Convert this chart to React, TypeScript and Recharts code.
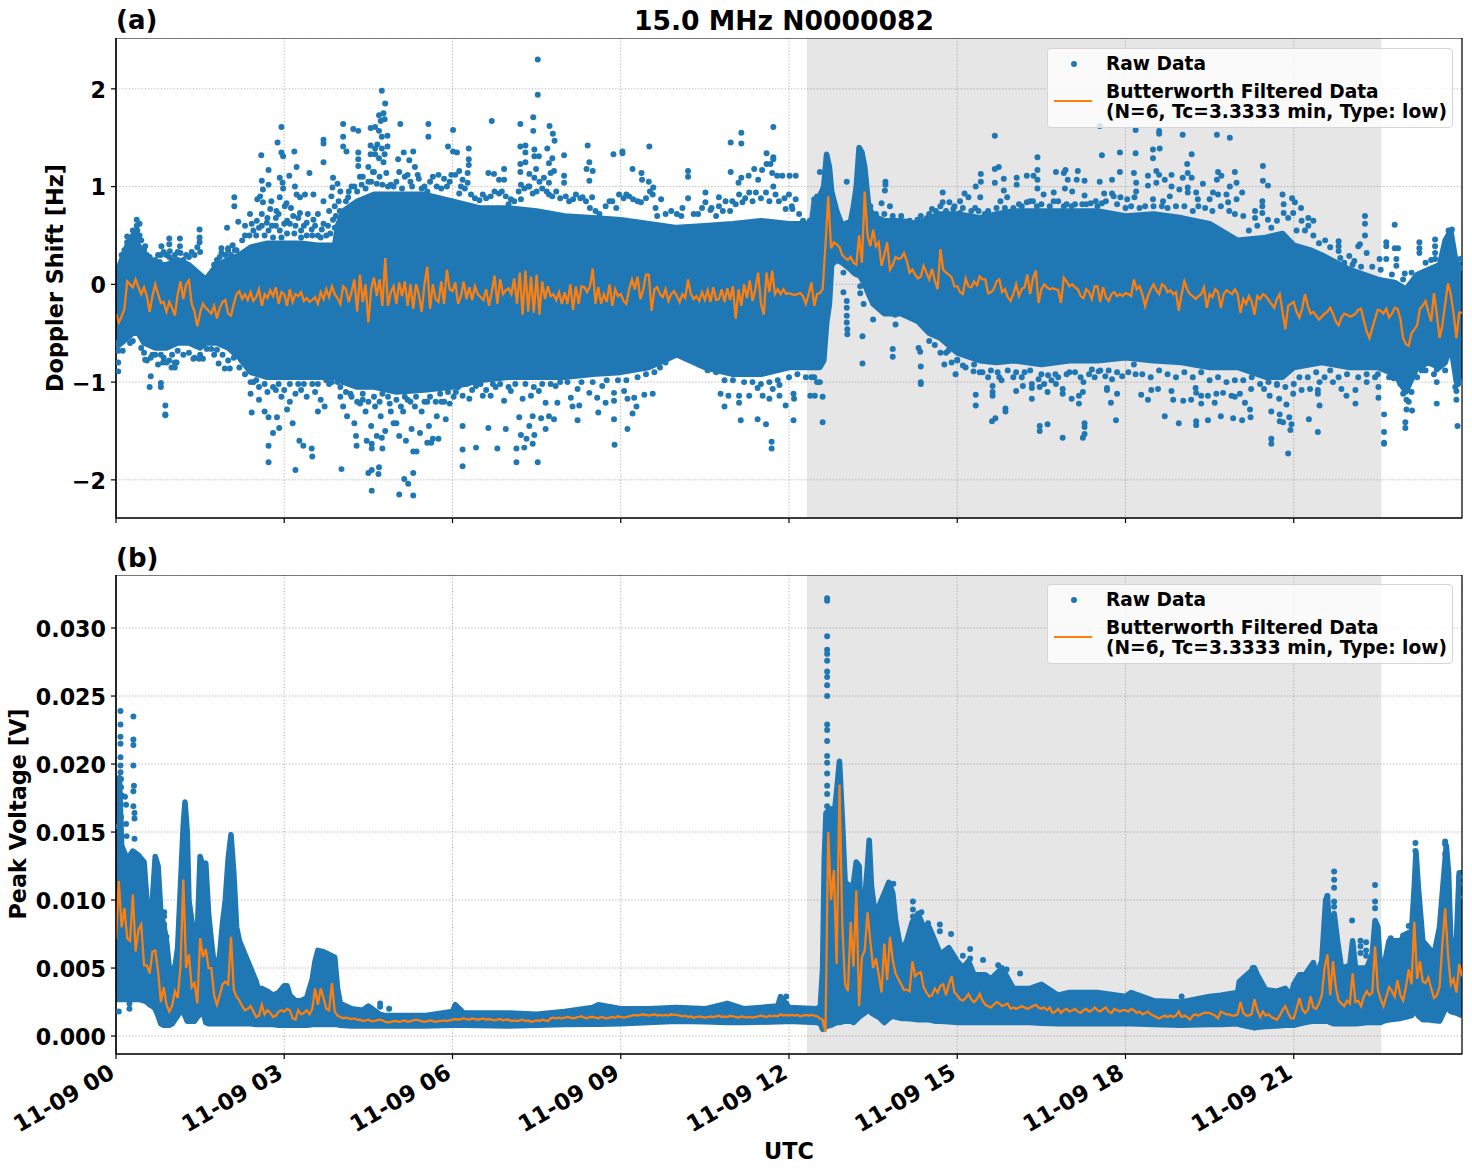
import { ComposedChart, Area, Line, Scatter, XAxis, YAxis, ZAxis, CartesianGrid, ReferenceArea } from "recharts";

const BLUE = "#1f77b4";
const ORANGE = "#ff7f0e";
const FONT = "'DejaVu Sans', sans-serif";

const hourTicks = [0, 3, 6, 9, 12, 15, 18, 21];
const hourLabels = ["11-09 00", "11-09 03", "11-09 06", "11-09 09", "11-09 12", "11-09 15", "11-09 18", "11-09 21"];
const dopplerTicks = [-2, -1, 0, 1, 2];
const voltageTicks = [0, 0.005, 0.01, 0.015, 0.02, 0.025, 0.03];
const nightStart = 12.32;
const nightEnd = 22.56;
const FILTER_STEP = 0.05; // hours between filtered samples

// [hour, low, high] of the solid part of the raw cloud, Hz
const dopplerBand: [number, number, number][] = [
  [0, -0.55, 0.1], [0.1, -0.6, 0.25], [0.2, -0.55, 0.4], [0.3, -0.5, 0.5], [0.4, -0.5, 0.4], [0.5, -0.6, 0.3],
  [0.7, -0.65, 0.2], [0.9, -0.65, 0.2], [1.1, -0.6, 0.25], [1.3, -0.6, 0.2], [1.5, -0.65, 0.1], [1.6, -0.6, 0.05],
  [1.8, -0.6, 0.2], [2.0, -0.65, 0.25], [2.2, -0.75, 0.3], [2.4, -0.9, 0.38], [2.7, -0.95, 0.42], [3.0, -0.95, 0.42],
  [3.3, -0.95, 0.42], [3.6, -0.95, 0.4], [3.9, -0.95, 0.4], [3.95, -0.95, 0.6], [4.05, -1.0, 0.75], [4.3, -1.05, 0.85],
  [4.6, -1.05, 0.92], [5, -1.1, 0.92], [5.5, -1.08, 0.92], [6, -1.05, 0.85], [6.5, -0.98, 0.78], [7, -0.95, 0.78],
  [7.5, -0.95, 0.75], [8, -0.95, 0.7], [8.5, -0.92, 0.68], [9, -0.9, 0.66], [9.5, -0.85, 0.62], [10, -0.72, 0.58],
  [10.5, -0.85, 0.6], [11, -0.92, 0.62], [11.5, -0.92, 0.65], [12, -0.85, 0.62], [12.4, -0.85, 0.62], [12.45, -0.85, 0.85],
  [12.55, -0.85, 0.9], [12.62, -0.78, 1.0], [12.67, -0.4, 1.33], [12.72, -0.2, 1.2], [12.76, 0.2, 0.95], [12.85, 0.25, 0.75],
  [12.95, 0.22, 0.6], [13.1, 0.15, 0.65], [13.15, 0.12, 0.8], [13.2, 0.1, 1.0], [13.25, 0.1, 1.4], [13.3, 0.05, 1.35],
  [13.35, 0, 1.2], [13.42, -0.1, 0.8], [13.5, -0.2, 0.7], [13.7, -0.3, 0.65], [14, -0.3, 0.65], [14.3, -0.38, 0.62],
  [14.5, -0.5, 0.68], [14.7, -0.55, 0.72], [15, -0.7, 0.72], [15.4, -0.78, 0.68], [15.7, -0.8, 0.72], [16, -0.78, 0.75],
  [16.5, -0.82, 0.75], [17, -0.78, 0.75], [17.5, -0.78, 0.75], [18, -0.75, 0.7], [18.5, -0.78, 0.72], [19, -0.8, 0.68],
  [19.5, -0.85, 0.62], [20, -0.85, 0.45], [20.5, -0.95, 0.48], [20.8, -0.95, 0.52], [21, -0.85, 0.4], [21.3, -0.82, 0.35],
  [21.5, -0.8, 0.3], [22, -0.85, 0.15], [22.5, -0.85, 0.05], [22.8, -0.92, 0.02], [23, -1.1, -0.05], [23.2, -0.85, 0.1],
  [23.4, -0.8, 0.15], [23.6, -0.85, 0.2], [23.7, -0.8, 0.45], [23.8, -0.62, 0.55], [23.9, -1.0, 0.2], [24, -0.9, 0.2],
];

// [hour, Hz] single points above the cloud
const dopplerHighEarly: [number, number][] = [
  [4.74, 1.98], [4.8, 1.85], [4.77, 1.75], [4.69, 1.73], [4.72, 1.67], [4.79, 1.69], [4.05, 1.64], [5.07, 1.64], [5.57, 1.64], [5.57, 1.51],
  [6.01, 1.58], [4.23, 1.59], [4.32, 1.57], [4.54, 1.6], [4.62, 1.61], [4.69, 1.57], [2.95, 1.61], [2.88, 1.45], [2.95, 1.35], [2.98, 1.31],
  [3.18, 1.36], [3.7, 1.48], [3.7, 1.44], [3.7, 1.25], [2.59, 1.32], [4.05, 1.51], [4.05, 1.41], [4.11, 1.36], [4.54, 1.42], [4.66, 1.43],
  [4.62, 1.39], [4.54, 1.33], [4.62, 1.33], [4.74, 1.39], [4.84, 1.41], [4.84, 1.52], [4.74, 1.51], [4.79, 1.33], [4.69, 1.29], [4.77, 1.25],
  [4.32, 1.35], [4.32, 1.28], [4.32, 1.21], [5.92, 1.41], [6.01, 1.36], [6.08, 1.35], [5.13, 1.35], [5.3, 1.36], [5.03, 1.28], [5.23, 1.27],
  [5.33, 1.2], [3.22, 1.2], [3.45, 1.14], [2.72, 1.17], [3.09, 1.11], [2.92, 1.09], [2.97, 1.04], [2.6, 1.06], [2.72, 1.02], [2.62, 0.97],
  [2.98, 0.98], [3.19, 1.0], [3.87, 1.09], [3.95, 1.03], [3.86, 0.99], [2.11, 0.89], [2.11, 0.8], [2.52, 0.87], [2.62, 0.84], [2.77, 0.85],
  [2.18, 0.64], [1.98, 0.58], [2.39, 0.72], [1.49, 0.56], [1.49, 0.48], [1.49, 0.43], [1.14, 0.47], [1.14, 0.39], [0.95, 0.47], [0.95, 0.41],
  [0.96, 0.34], [0.81, 0.39], [0.78, 0.23], [0.62, 0.25], [0.37, 0.66], [0.42, 0.62], [0.37, 0.6], [0.38, 0.55], [0.4, 0.49], [0.2, 0.49],
  [0.2, 0.43], [0.52, 0.39], [2.0, 0.37], [1.88, 0.37], [1.88, 0.32], [2.92, 0.89], [3.01, 0.8], [2.86, 0.75], [2.75, 0.77], [2.51, 0.65],
  [2.69, 0.63], [2.72, 0.55], [2.92, 0.55], [3.16, 0.7], [3.28, 0.73], [3.4, 0.63], [3.49, 0.56], [3.52, 0.66], [3.52, 0.92], [3.67, 0.56],
  [3.7, 0.85], [3.84, 0.9], [3.87, 0.66], [3.99, 0.75], [4.14, 0.89], [3.22, 0.92], [3.28, 0.89], [3.37, 0.92], [3.04, 0.83], [2.57, 0.9],
  [2.3, 0.6], [2.45, 0.55], [2.6, 0.6], [2.85, 0.6], [3.05, 0.65], [3.3, 0.55], [3.6, 0.5], [3.78, 0.6], [3.9, 0.8], [4.0, 0.95],
  [4.25, 1.0], [4.4, 1.1], [4.5, 1.05], [4.6, 1.15], [4.7, 1.1], [4.85, 1.0], [4.95, 1.0], [5.05, 1.15], [5.15, 1.1], [5.25, 1.05],
  [5.4, 1.08], [5.5, 1.0], [5.6, 1.05], [5.72, 1.0], [5.85, 1.08], [5.98, 1.12], [4.35, 1.1], [4.5, 1.2], [4.58, 1.15], [4.82, 1.14],
];

const dopplerHighMid: [number, number][] = [
  [7.52, 2.3], [7.52, 1.94], [7.44, 1.71], [7.44, 1.57], [6.7, 1.67], [7.21, 1.64], [7.73, 1.62], [7.79, 1.54], [7.82, 1.47], [6.29, 1.39],
  [7.21, 1.41], [7.3, 1.42], [7.3, 1.35], [7.3, 1.25], [7.21, 1.23], [7.21, 1.15], [7.69, 1.39], [7.99, 1.32], [7.78, 1.29], [7.46, 1.38],
  [7.46, 1.31], [7.54, 1.31], [8.41, 1.42], [8.44, 1.25], [8.39, 1.18], [8.5, 1.16], [8.44, 1.06], [8.87, 1.33], [9.03, 1.36], [9.03, 1.34],
  [9.51, 1.41], [9.21, 1.18], [9.37, 1.14], [9.38, 1.07], [9.5, 1.05], [9.58, 0.99], [10.2, 1.16], [10.2, 1.1], [10.2, 0.88], [10.96, 1.45],
  [11.15, 1.55], [11.15, 1.44], [10.96, 1.15], [11.72, 1.61], [11.6, 1.34], [11.72, 1.3], [11.72, 1.28], [11.6, 1.23], [11.67, 1.23], [11.38, 1.18],
  [11.28, 1.11], [11.15, 1.09], [11.1, 1.04], [11.45, 1.07], [11.52, 1.17], [11.7, 1.14], [11.79, 1.11], [11.88, 1.11], [12.01, 1.11], [12.12, 1.11],
  [11.72, 1.0], [6.64, 1.14], [6.74, 1.13], [6.83, 1.07], [6.92, 1.18], [6.92, 1.07], [6.12, 1.16], [6.27, 1.14], [6.29, 1.28], [6.29, 1.22],
  [6.18, 1.07], [6.27, 1.04], [7.37, 1.13], [7.49, 1.18], [7.46, 1.09], [7.72, 1.24], [7.75, 1.14], [7.81, 1.16], [7.99, 1.11], [7.99, 1.04],
  [7.63, 1.09], [7.72, 1.04], [7.37, 1.0], [7.22, 1.02], [6.12, 0.93], [6.54, 0.92], [6.83, 0.93], [7.04, 0.87], [7.22, 0.87], [7.43, 0.93],
  [7.72, 0.92], [8.02, 0.9], [8.2, 0.92], [8.32, 0.89], [8.49, 0.89], [8.73, 0.8], [8.85, 0.85], [8.97, 0.92], [9.15, 0.9], [9.36, 0.84],
  [9.57, 0.92], [9.72, 0.87], [10.51, 0.94], [10.51, 0.84], [10.75, 0.89], [10.75, 0.8], [10.87, 0.85], [10.99, 0.85], [11.11, 0.92], [11.17, 0.84],
  [11.29, 0.94], [11.41, 0.94], [11.59, 0.94], [11.76, 0.92], [12.0, 0.92], [12.12, 0.87], [11.94, 0.77], [12.06, 0.77], [9.9, 0.75], [10.3, 0.72],
  [10.1, 0.78], [10.6, 0.76], [9.65, 0.7],
];

const dopplerHighLate: [number, number][] = [
  [15.67, 1.52], [16.43, 1.3], [16.43, 1.17], [15.74, 1.2], [15.67, 1.18], [15.42, 1.13], [15.42, 1.05], [15.83, 1.08], [15.67, 1.04], [15.83, 0.96],
  [15.33, 1.0], [14.74, 0.94], [15.13, 0.93], [16.06, 1.09], [16.06, 1.02], [16.24, 1.11], [16.36, 1.11], [16.43, 1.07], [16.43, 0.98], [16.76, 1.15],
  [16.93, 1.17], [16.9, 1.14], [17.15, 1.16], [16.97, 1.07], [17.27, 1.06], [17.13, 1.07], [17.58, 1.32], [17.9, 1.35], [17.9, 1.15], [17.54, 1.62],
  [17.54, 1.05], [17.76, 1.07], [16.92, 0.98], [17.05, 0.95], [17.27, 0.91], [17.62, 0.93], [17.76, 0.93], [13.72, 1.05], [13.72, 1.02], [13.71, 0.96],
  [13.03, 1.05], [12.55, 1.15], [13.65, 0.83], [13.8, 0.8], [12.37, 0.65], [12.52, 0.65], [12.45, 0.87], [12.5, 0.9], [12.57, 0.93], [14.29, 0.66],
  [14.46, 0.68], [14.55, 0.77], [14.74, 0.84], [14.86, 0.84], [14.93, 0.77], [15.05, 0.85], [15.05, 0.73], [15.2, 0.89], [15.32, 0.78], [15.41, 0.89],
  [15.49, 0.72], [15.65, 0.67], [15.77, 0.85], [15.89, 0.89], [16.1, 0.82], [16.24, 0.84], [16.3, 0.85], [16.42, 0.8], [16.54, 0.92], [16.72, 0.94],
  [16.72, 0.85], [16.9, 0.8], [17.04, 0.8], [17.23, 0.82], [17.38, 0.83], [17.47, 0.85], [17.58, 0.83], [17.79, 0.9], [17.91, 0.89], [18.03, 0.87],
  [18.18, 1.58], [18.6, 1.57], [18.6, 1.54], [19.02, 1.53], [19.63, 1.53], [19.86, 1.5], [18.49, 1.38], [18.49, 1.29], [18.61, 1.39], [18.18, 1.34],
  [19.18, 1.33], [19.1, 1.23], [20.45, 1.21], [20.45, 1.06], [20.54, 1.01], [18.15, 1.14], [18.19, 1.04], [18.19, 0.95], [18.16, 0.89], [18.4, 1.11],
  [18.4, 1.01], [18.55, 1.16], [18.6, 1.12], [18.7, 1.07], [18.82, 1.12], [18.55, 1.04], [18.82, 1.0], [19.11, 1.14], [19.18, 1.09], [19.02, 1.09],
  [19.11, 0.99], [19.38, 1.03], [19.65, 1.15], [19.63, 1.07], [19.71, 1.11], [19.95, 1.15], [19.86, 1.0], [19.98, 1.04], [20.08, 0.94], [19.56, 0.94],
  [19.65, 0.92], [19.26, 0.94], [19.11, 0.94], [18.49, 0.87], [18.67, 0.85], [18.79, 0.9], [18.96, 0.97], [19.29, 0.87], [19.5, 0.87], [19.8, 0.92],
  [19.98, 0.87], [19.83, 0.84], [20.44, 0.85], [20.44, 0.8], [20.31, 0.75], [20.8, 0.92], [20.97, 0.88], [21.02, 0.84], [21.13, 0.78], [20.82, 0.82],
  [20.82, 0.73], [20.99, 0.73], [20.44, 0.73], [20.54, 0.66], [20.31, 0.68], [21.14, 0.65], [21.26, 0.68], [21.35, 0.65], [21.26, 0.6], [22.27, 0.7],
  [22.27, 0.62], [22.27, 0.5], [22.8, 0.61], [21.56, 0.45], [21.8, 0.44], [21.8, 0.39], [21.8, 0.34], [22.15, 0.39], [22.18, 0.41], [22.65, 0.43],
  [22.65, 0.39], [22.8, 0.37], [22.86, 0.37], [23.24, 0.43], [23.24, 0.37], [23.24, 0.32], [23.52, 0.46], [23.52, 0.39], [23.52, 0.32], [23.82, 0.56],
  [23.76, 0.55], [23.76, 0.48], [23.76, 0.39], [23.97, 0.26], [22.53, 0.26], [22.65, 0.26], [22.83, 0.26], [22.83, 0.19], [22.98, 0.11], [23.52, 0.26],
  [23.76, 0.29], [23.76, 0.22], [23.97, 0.17], [21.99, 0.29], [22.08, 0.24], [22.3, 0.32], [21.83, 0.27],
];

// [hour, Hz] points hugging the top edge of the cloud
const dopplerTopFringe: [number, number][] = [
  [0.1, 0.3], [0.15, 0.35], [0.2, 0.38], [0.25, 0.42], [0.3, 0.55], [0.35, 0.5], [0.42, 0.5], [0.45, 0.45], [0.5, 0.35], [0.55, 0.3],
  [0.6, 0.28], [0.7, 0.25], [0.75, 0.3], [0.8, 0.3], [0.85, 0.33], [0.9, 0.3], [0.95, 0.28], [1.0, 0.25], [1.05, 0.3], [1.1, 0.33],
  [1.15, 0.32], [1.2, 0.25], [1.25, 0.3], [1.3, 0.28], [1.35, 0.33], [1.4, 0.3], [1.45, 0.38], [1.5, 0.33], [1.75, 0.2], [1.8, 0.25],
  [1.85, 0.28], [1.95, 0.3], [2.0, 0.35], [2.08, 0.4], [2.12, 0.35], [2.15, 0.35], [2.05, 0.3], [2.25, 0.45], [2.3, 0.5], [2.38, 0.5],
  [2.42, 0.62], [2.5, 0.5], [2.55, 0.58], [2.6, 0.72], [2.65, 0.5], [2.7, 0.68], [2.78, 0.6], [2.8, 0.48], [2.85, 0.68], [2.9, 0.72],
  [2.95, 0.48], [3.0, 0.62], [3.05, 0.52], [3.1, 0.62], [3.12, 0.78], [3.18, 0.52], [3.2, 0.6], [3.25, 0.68], [3.3, 0.48], [3.35, 0.6],
  [3.4, 0.5], [3.42, 0.72], [3.5, 0.5], [3.55, 0.6], [3.6, 0.72], [3.65, 0.48], [3.7, 0.62], [3.75, 0.5], [3.8, 0.75], [3.82, 0.52],
  [3.9, 0.58], [3.92, 0.7], [3.97, 0.85], [4.1, 0.85], [4.15, 0.95], [4.2, 1.0], [4.3, 0.95], [4.38, 1.02], [4.45, 0.98], [4.55, 1.05],
  [4.65, 1.03], [4.75, 1.02], [4.9, 1.02], [5.0, 1.05], [5.1, 0.98], [5.2, 1.12], [5.28, 1.0], [5.38, 1.12], [5.45, 0.98], [5.55, 0.95],
  [5.65, 1.1], [5.75, 1.12], [5.8, 0.98], [5.9, 1.0], [5.95, 1.05], [6.05, 1.12], [6.15, 1.0], [6.22, 0.98], [6.33, 0.92], [6.4, 0.88],
  [6.48, 0.86], [6.6, 0.88], [6.68, 0.9], [6.75, 0.95], [6.88, 0.95], [6.95, 0.9], [7.0, 0.82], [7.1, 0.85], [7.18, 0.95], [7.28, 0.98],
  [7.35, 1.0], [7.5, 0.95], [7.55, 1.05], [7.6, 0.98], [7.68, 0.95], [7.78, 0.9], [7.85, 0.95], [7.92, 0.88], [8.08, 0.85], [8.15, 0.87],
  [8.28, 0.88], [8.38, 0.85], [8.45, 0.78], [8.55, 0.75], [8.62, 0.72], [8.8, 0.85], [8.92, 0.78], [9.05, 0.88], [9.1, 0.92], [9.22, 0.87],
  [9.3, 0.85], [9.45, 0.88], [9.52, 0.95], [9.62, 0.78], [9.8, 0.72], [10.0, 0.72], [10.08, 0.7], [10.38, 0.72], [10.45, 0.78], [10.62, 0.78],
  [10.7, 0.7], [10.82, 0.75], [10.95, 0.75], [11.05, 0.82], [11.22, 0.88], [11.35, 0.85], [11.5, 0.88], [11.65, 0.85], [11.82, 0.85], [11.92, 0.88],
  [12.05, 0.8], [12.18, 0.72], [12.25, 0.65], [12.32, 0.62], [13.45, 0.8], [13.55, 0.72], [13.7, 0.72], [13.85, 0.7], [14, 0.7], [14.15, 0.65],
  [14.35, 0.7], [14.5, 0.72], [14.62, 0.75], [14.7, 0.8], [14.8, 0.75], [14.95, 0.8], [15.1, 0.78], [15.25, 0.75], [15.38, 0.75], [15.55, 0.75],
  [15.7, 0.78], [15.85, 0.78], [16, 0.78], [16.15, 0.8], [16.35, 0.85], [16.5, 0.82], [16.65, 0.8], [16.8, 0.85], [16.95, 0.82], [17.1, 0.82],
  [17.3, 0.82], [17.5, 0.8], [17.65, 0.85], [17.85, 0.82], [18.0, 0.78], [18.1, 0.8], [18.25, 0.78], [18.35, 0.8], [18.5, 0.8], [18.65, 0.8],
  [18.75, 0.78], [18.9, 0.8], [19.05, 0.8], [19.2, 0.75], [19.3, 0.8], [19.42, 0.78], [19.55, 0.75], [19.7, 0.8], [19.85, 0.75], [19.95, 0.72],
  [20.1, 0.7], [20.2, 0.55], [20.35, 0.6], [20.6, 0.58], [20.7, 0.65], [20.9, 0.68], [21.05, 0.55], [21.2, 0.55], [21.35, 0.5], [21.45, 0.42],
  [21.65, 0.38], [21.9, 0.22], [22.05, 0.2], [22.2, 0.18], [22.4, 0.18], [22.55, 0.15], [22.75, 0.1], [22.95, 0.05], [23.1, 0.12], [23.35, 0.22],
  [23.45, 0.25], [23.65, 0.28],
];

// [hour, Hz] points hugging the bottom edge of the cloud
const dopplerBottomFringe: [number, number][] = [
  [0.02, -0.6], [0.05, -0.62], [0.08, -0.6], [0.12, -0.68], [0.25, -0.6], [0.3, -0.58], [0.45, -0.65], [0.5, -0.7], [0.55, -0.78], [0.65, -0.72],
  [0.7, -0.72], [0.75, -0.82], [0.8, -0.72], [0.85, -0.75], [0.95, -0.78], [1.0, -0.72], [1.05, -0.8], [1.1, -0.68], [1.2, -0.72], [1.3, -0.7],
  [1.4, -0.75], [1.5, -0.72], [1.55, -0.76], [1.7, -0.66], [1.75, -0.72], [1.9, -0.72], [2.0, -0.78], [2.1, -0.75], [2.2, -0.85], [2.3, -0.92],
  [2.4, -1.0], [2.4, -1.12], [2.5, -0.98], [2.65, -1.02], [2.8, -1.05], [2.9, -1.02], [3.0, -1.08], [3.1, -1.02], [3.25, -1.02], [3.35, -1.02],
  [3.5, -1.02], [3.6, -1.02], [3.75, -0.98], [3.85, -1.0], [3.95, -1.0], [4.0, -1.05], [4.1, -1.1], [4.2, -1.15], [4.3, -1.2], [4.4, -1.12],
  [4.5, -1.2], [4.6, -1.15], [4.7, -1.2], [4.75, -1.12], [4.85, -1.15], [4.9, -1.3], [5.0, -1.18], [5.08, -1.25], [5.15, -1.15], [5.25, -1.2],
  [5.35, -1.15], [5.45, -1.3], [5.55, -1.2], [5.6, -1.15], [5.7, -1.2], [5.78, -1.12], [5.85, -1.2], [5.92, -1.1], [6.1, -1.05], [6.25, -1.02],
  [6.35, -1.08], [6.5, -1.02], [6.6, -1.08], [6.72, -1.02], [6.85, -1.02], [7.0, -1.05], [7.12, -1.02], [7.3, -1.02], [7.45, -1.05], [7.6, -1.02],
  [7.75, -1.02], [7.92, -1.0], [8.05, -1.0], [8.3, -1.0], [8.5, -1.0], [8.75, -0.98], [8.95, -0.98], [9.1, -0.98], [9.3, -0.95], [9.45, -0.92],
  [9.6, -0.9], [9.7, -0.85], [9.8, -0.8], [10.4, -0.82], [10.55, -0.88], [10.7, -0.9], [10.85, -0.98], [11.0, -0.98], [11.2, -1.0], [11.35, -1.0],
  [11.5, -1.02], [11.65, -1.0], [11.8, -0.98], [12.0, -0.95], [12.15, -0.92], [12.3, -0.95], [12.45, -0.95], [12.5, -1.0], [14.5, -0.58], [14.6, -0.62],
  [14.8, -0.7], [14.9, -0.8], [15.0, -0.78], [15.15, -0.85], [15.3, -0.82], [15.45, -0.9], [15.6, -0.88], [15.75, -0.95], [15.9, -0.88], [16.05, -0.9],
  [16.15, -0.95], [16.3, -0.88], [16.5, -0.92], [16.55, -1.02], [16.68, -0.98], [16.8, -0.95], [16.95, -0.92], [17.1, -0.9], [17.2, -0.95], [17.35, -0.92],
  [17.45, -0.95], [17.55, -0.88], [17.7, -0.88], [17.85, -0.9], [18.05, -0.9], [18.15, -0.82], [18.3, -0.92], [18.45, -0.95], [18.6, -0.88], [18.75, -0.92],
  [18.9, -0.95], [19.05, -0.9], [19.2, -0.95], [19.35, -0.9], [19.5, -0.98], [19.65, -0.95], [19.8, -1.0], [19.95, -0.98], [20.1, -0.98], [20.25, -0.95],
  [20.4, -1.02], [20.55, -1.0], [20.7, -1.02], [20.85, -1.05], [21.0, -1.02], [21.1, -0.95], [21.25, -0.95], [21.4, -0.9], [21.55, -0.95], [21.65, -0.88],
  [21.8, -0.95], [21.95, -0.92], [22.15, -0.95], [22.3, -0.92], [22.5, -0.92], [22.7, -0.95], [22.9, -1.02], [22.95, -1.12], [23.05, -1.2], [23.1, -1.1],
  [23.2, -0.95], [23.35, -0.88], [23.5, -0.92], [23.7, -0.88], [23.88, -1.05], [23.93, -1.02], [23.97, -1.0],
];

// [hour, Hz] single points below the cloud
const dopplerLowEarly: [number, number][] = [
  [2.42, -1.31], [2.72, -1.82], [2.72, -1.65], [2.72, -1.36], [2.87, -1.36], [2.8, -1.52], [2.91, -1.47], [3.2, -1.9], [3.27, -1.6], [3.34, -1.65],
  [3.49, -1.68], [3.5, -1.76], [4.02, -1.89], [4.5, -1.93], [4.56, -1.9], [4.68, -1.94], [4.69, -1.87], [4.56, -2.11], [5.14, -1.99], [5.21, -2.04],
  [5.05, -2.15], [5.3, -2.16], [5.3, -1.93], [5.3, -1.71], [5.36, -1.71], [4.29, -1.65], [4.56, -1.63], [4.56, -1.68], [4.75, -1.68], [4.74, -1.57],
  [0.04, -0.68], [0.04, -0.8], [0.04, -0.89], [0.52, -0.77], [0.62, -0.75], [0.62, -0.94], [0.6, -1.05], [0.8, -1.01], [0.8, -1.05], [0.88, -1.24],
  [0.88, -1.34], [0.88, -1.33], [0.84, -0.8], [0.9, -0.8], [0.99, -0.85], [1.05, -0.85], [1.08, -0.8], [1.38, -0.76], [1.48, -0.76], [1.62, -0.66],
  [1.8, -0.67], [1.83, -0.81], [1.94, -0.86], [2.03, -0.86], [2.24, -0.74], [2.24, -0.78], [2.45, -1.0], [2.55, -1.05], [2.7, -1.1], [2.85, -1.08],
  [2.95, -1.15], [3.1, -1.2], [3.2, -1.12], [3.3, -1.08], [3.4, -1.15], [3.55, -1.1], [3.65, -1.18], [3.8, -1.02], [4.0, -1.15], [4.05, -1.25],
  [4.12, -1.35], [4.25, -1.42], [4.4, -1.18], [4.45, -1.3], [4.55, -1.45], [4.62, -1.25], [4.72, -1.35], [4.8, -1.5], [4.88, -1.22], [4.95, -1.42],
  [5.05, -1.55], [5.12, -1.3], [5.2, -1.18], [5.27, -1.48], [5.33, -1.25], [5.42, -1.52], [5.5, -1.2], [5.58, -1.45], [5.65, -1.58], [5.72, -1.35],
  [5.8, -1.2], [5.88, -1.38], [5.95, -1.22], [6.02, -1.15], [4.28, -1.55], [4.47, -1.6], [4.65, -1.55], [5.0, -1.42], [5.17, -1.6], [3.15, -1.42],
  [3.05, -1.28], [2.65, -1.3], [2.55, -1.18], [3.6, -1.3], [3.72, -1.25], [4.18, -1.12], [4.35, -1.22], [5.55, -1.62], [5.62, -1.62], [5.75, -1.58],
];

const dopplerLowMid: [number, number][] = [
  [6.18, -1.86], [6.18, -1.69], [6.42, -1.67], [6.8, -1.68], [7.14, -1.82], [7.52, -1.82], [7.14, -1.68], [7.28, -1.67], [7.43, -1.63], [7.22, -1.54],
  [7.32, -1.58], [7.46, -1.54], [7.66, -1.48], [6.95, -1.48], [6.64, -1.47], [6.18, -1.45], [8.23, -1.39], [8.6, -1.31], [8.88, -1.38], [8.89, -1.64],
  [9.12, -1.48], [9.21, -1.32], [9.28, -1.25], [11.69, -1.61], [11.69, -1.68], [11.14, -1.39], [11.59, -1.43], [11.44, -1.38], [10.85, -1.25], [12.08, -1.39],
  [6.06, -1.1], [6.18, -1.14], [6.3, -1.17], [6.42, -1.04], [6.54, -1.14], [6.68, -1.14], [6.77, -1.05], [6.92, -1.19], [7.04, -1.09], [7.25, -1.17],
  [7.4, -1.14], [7.54, -1.09], [7.66, -1.21], [7.84, -1.04], [7.87, -1.21], [7.19, -1.36], [7.37, -1.45], [7.43, -1.35], [7.58, -1.37], [7.72, -1.35],
  [7.81, -1.38], [8.11, -1.16], [8.14, -1.25], [8.23, -1.07], [8.26, -1.24], [8.44, -1.11], [8.58, -1.16], [8.73, -1.21], [8.88, -1.11], [8.88, -1.19],
  [8.67, -1.04], [9.06, -1.09], [9.12, -1.17], [9.24, -1.16], [9.42, -1.13], [9.57, -1.12], [10.78, -1.12], [10.92, -1.14], [11.11, -1.14], [11.11, -1.21],
  [11.29, -1.14], [11.44, -1.06], [11.53, -1.14], [11.65, -1.17], [11.71, -1.07], [11.83, -1.03], [11.83, -1.14], [11.94, -1.24], [12.08, -1.12], [12.09, -1.17],
  [12.38, -1.14], [12.46, -1.14], [12.6, -1.41], [12.6, -1.15], [12.55, -1.0], [12.4, -0.95],
  [13.03, -0.17], [13.03, -0.24], [13.03, -0.32], [13.03, -0.39], [13.04, -0.46], [13.04, -0.51], [12.97, 0.12], [12.97, -0.08], [13.27, -0.02], [13.27, -0.09],
  [13.33, -0.2], [13.5, -0.19], [13.5, -0.36], [13.62, -0.22], [13.68, -0.26], [13.89, -0.31], [13.9, -0.41], [14.0, -0.29], [14.1, -0.29], [14.25, -0.36],
  [14.4, -0.38], [13.31, -0.53], [13.31, -0.81], [13.85, -0.66], [13.85, -0.74], [14.31, -0.65], [14.34, -0.69], [14.35, -0.84], [14.35, -1.0], [14.35, -1.02],
];

const dopplerLowLate: [number, number][] = [
  [14.77, -0.82], [14.97, -0.92], [15.1, -0.83], [15.29, -0.89], [15.0, -0.77], [14.84, -0.68], [14.7, -0.7], [15.33, -1.13], [15.33, -1.24], [15.62, -1.4],
  [15.68, -1.37], [15.86, -1.27], [15.86, -1.3], [15.63, -1.04], [15.63, -1.1], [15.63, -1.14], [15.79, -0.98], [16.05, -1.09], [16.17, -1.04], [16.33, -1.02],
  [16.33, -1.06], [16.33, -1.17], [16.47, -1.45], [16.47, -1.5], [16.61, -1.43], [16.88, -1.57], [17.27, -1.42], [17.27, -1.46], [17.24, -1.57], [17.27, -1.53],
  [16.47, -1.05], [16.61, -1.1], [16.76, -1.02], [16.88, -1.07], [16.88, -1.12], [17.04, -1.17], [17.17, -1.14], [17.17, -1.22], [17.24, -1.1], [17.25, -1.0],
  [17.67, -1.06], [17.67, -1.08], [17.85, -1.12], [17.74, -1.21], [17.83, -1.39], [17.94, -0.94], [17.4, -0.87], [17.52, -0.89], [17.64, -0.94], [17.76, -0.97],
  [15.4, -0.9], [15.55, -0.95], [15.72, -0.9], [16.0, -0.95], [16.2, -0.9], [16.45, -0.97], [16.62, -0.93], [16.75, -0.92], [17.0, -0.9], [18.18, -0.92],
  [20.9, -1.73], [20.6, -1.58], [20.6, -1.63], [20.94, -1.49], [20.96, -1.43], [20.92, -1.36], [21.43, -1.51], [21.27, -1.38], [22.61, -1.33], [22.61, -1.51],
  [22.61, -1.62], [22.61, -1.63], [22.99, -1.41], [22.99, -1.47], [23.01, -1.28], [23.11, -1.29], [23.55, -1.22], [23.92, -1.45], [23.55, -1.0], [18.7, -1.35],
  [18.95, -1.42], [19.26, -1.4], [19.26, -1.44], [19.47, -1.39], [19.7, -1.35], [19.92, -1.37], [20.08, -1.39], [20.23, -1.36], [20.6, -1.3], [20.75, -1.33],
  [20.75, -1.4], [20.81, -1.41], [18.28, -1.13], [18.4, -1.18], [18.46, -1.08], [18.58, -1.07], [18.82, -1.09], [18.85, -1.18], [19.03, -1.19], [19.17, -1.18],
  [19.25, -1.06], [19.26, -1.11], [19.35, -1.14], [19.35, -1.22], [19.47, -1.14], [19.59, -1.21], [19.62, -1.12], [19.74, -1.11], [19.89, -1.14], [19.95, -1.15],
  [20.04, -1.12], [20.13, -1.21], [20.22, -1.28], [20.24, -1.07], [20.47, -1.07], [20.57, -1.14], [20.7, -1.03], [20.74, -1.17], [20.87, -1.23], [20.99, -1.12],
  [21.14, -1.08], [21.29, -1.07], [21.43, -1.08], [21.43, -1.12], [21.46, -1.24], [21.46, -1.0], [21.85, -1.07], [21.94, -1.14], [22.1, -1.08], [22.1, -1.22],
  [22.51, -1.16], [22.51, -1.05], [22.78, -0.88], [22.78, -0.96], [23.28, -0.8], [23.28, -0.88], [23.43, -0.75], [23.55, -0.87], [23.64, -0.8], [23.9, -1.09],
  [23.9, -1.18], [23.0, -1.09], [23.01, -1.18], [23.3, -0.84], [21.7, -1.0], [22.3, -1.0], [22.45, -0.95],
];

// low-pass filtered Doppler shift, Hz, one row per half hour
const dopplerFiltered = [
  -0.3, -0.39, -0.33, -0.25, 0.03, 0.0, -0.03, 0.05, -0.03, -0.1,
  -0.03, -0.12, -0.28, -0.12, 0.0, -0.1, -0.19, -0.18, -0.28, -0.18,
  -0.24, -0.32, -0.1, 0.03, -0.15, 0.0, 0.04, -0.2, -0.28, -0.43,
  -0.29, -0.2, -0.24, -0.27, -0.3, -0.22, -0.35, -0.24, -0.18, -0.16,
  -0.3, -0.32, -0.2, -0.1, -0.07, -0.15, -0.1, -0.16, -0.08, -0.17,
  -0.13, -0.05, -0.22, -0.1, -0.14, -0.06, -0.12, -0.03, -0.2, -0.08,
  -0.1, -0.22, -0.05, -0.18, -0.1, -0.12, -0.08, -0.17, -0.14, -0.18,
  -0.16, -0.13, -0.2, -0.08, -0.15, -0.05, -0.13, -0.02, -0.1, -0.14,
  -0.2, -0.02, -0.05, -0.18, -0.08, 0.05, -0.28, 0.1, -0.18, 0.0,
  -0.39, -0.05, 0.07, -0.12, 0.05, -0.22, 0.27, -0.22, -0.08, -0.02,
  -0.2, 0.02, -0.12, 0.03, -0.22, 0.0, -0.25, 0.0, -0.1, -0.28,
  0.0, 0.18, -0.25, 0.0, -0.15, -0.18, 0.03, -0.2, 0.15, -0.05,
  -0.07, 0.02, -0.2, -0.12, 0.03, -0.15, -0.03, -0.16, -0.02, -0.1,
  -0.13, -0.16, -0.05, -0.22, -0.08, 0.09, -0.2, 0.05, -0.1, -0.06,
  -0.04, -0.1, 0.06, -0.2, 0.12, -0.31, 0.14, -0.28, 0.08, -0.29,
  0.1, -0.31, 0.03, -0.15, -0.02, -0.12, -0.1, -0.16, -0.08, -0.2,
  -0.08, -0.2, 0.0, -0.26, -0.02, -0.2, -0.02, -0.03, -0.08, -0.02,
  0.16, -0.2, -0.03, -0.2, -0.1, -0.18, 0.0, -0.22, -0.05, -0.12,
  -0.1, -0.17, -0.2, -0.05, 0.05, -0.05, 0.08, -0.15, -0.06, 0.1,
  0.1, -0.27, -0.05, -0.03, -0.1, -0.13, -0.05, -0.17, -0.1, -0.07,
  -0.12, -0.18, -0.1, -0.14, 0.05, -0.1, -0.15, -0.12, -0.17, -0.08,
  -0.16, -0.06, -0.18, -0.03, -0.16, -0.15, -0.05, -0.18, -0.04, -0.16,
  -0.02, -0.35, -0.05, -0.22, 0.0, -0.14, 0.04, -0.17, -0.05, 0.12,
  -0.2, -0.31, 0.12, -0.08, 0.14, -0.1, -0.05, -0.1, -0.05, -0.1,
  -0.09, -0.1, -0.11, -0.1, -0.09, -0.12, -0.2, -0.1, 0.02, -0.22,
  -0.1, -0.09, -0.05, 0.4, 0.9, 0.37, 0.43, 0.41, 0.38, 0.3,
  0.27, 0.25, 0.28, 0.22, 0.2, 0.5, 0.22, 0.95, 0.5, 0.39,
  0.56, 0.39, 0.43, 0.19, 0.3, 0.43, 0.15, 0.2, 0.28, 0.26,
  0.27, 0.32, 0.24, 0.12, 0.15, 0.1, 0.06, 0.08, 0.19, 0.12,
  0.05, 0.16, 0.04, -0.05, 0.36, 0.15, 0.12, 0.1, 0.07, -0.02,
  -0.02, -0.08, -0.1, 0.06, -0.02, -0.03, 0.03, -0.01, 0.08, 0.05,
  0.05, -0.09, -0.08, -0.05, 0.03, 0.05, -0.08, -0.05, -0.13, -0.17,
  -0.1, 0.0, -0.12, -0.05, -0.03, 0.1, -0.1, 0.06, 0.14, -0.19,
  -0.05, 0.0, -0.03, -0.05, -0.04, -0.05, -0.06, -0.19, 0.07, 0.03,
  -0.02, 0.0, -0.03, -0.05, -0.12, -0.14, -0.05, -0.08, -0.15, -0.02,
  -0.02, -0.18, -0.03, -0.13, -0.17, -0.1, -0.08, -0.12, -0.1, -0.12,
  -0.09, -0.1, -0.12, 0.05, -0.05, -0.02, -0.1, -0.22, -0.12, -0.05,
  0.0, -0.06, -0.1, 0.0, -0.02, -0.08, -0.06, -0.1, -0.08, -0.27,
  -0.1, 0.03, -0.05, -0.1, -0.12, -0.15, -0.12, -0.1, -0.03, -0.24,
  -0.1, -0.13, -0.05, -0.08, -0.24, -0.1, -0.06, -0.08, -0.1, -0.05,
  -0.1, -0.29, -0.15, -0.2, -0.12, -0.18, -0.31, -0.12, -0.15, -0.1,
  -0.12, -0.16, -0.2, -0.24, -0.15, -0.1, -0.28, -0.46, -0.22, -0.2,
  -0.18, -0.28, -0.34, -0.25, -0.1, -0.22, -0.3, -0.28, -0.32, -0.36,
  -0.33, -0.3, -0.28, -0.24, -0.3, -0.38, -0.42, -0.34, -0.3, -0.31,
  -0.33, -0.32, -0.3, -0.26, -0.25, -0.37, -0.48, -0.55, -0.45, -0.35,
  -0.26, -0.27, -0.3, -0.25, -0.34, -0.3, -0.24, -0.25, -0.35, -0.55,
  -0.61, -0.63, -0.5, -0.46, -0.42, -0.25, -0.22, -0.17, -0.28, -0.38,
  -0.09, -0.3, -0.55, -0.42, -0.2, 0.01, -0.1, -0.3, -0.55, -0.29, -0.29,
];

// [hour, low, high] of the solid part of the raw cloud, mV
const voltageBand: [number, number, number][] = [
  [0, 2.7, 15], [0.06, 2.7, 19], [0.1, 2.7, 14], [0.2, 2.7, 13], [0.3, 2.7, 13.6], [0.4, 2.7, 13.3], [0.5, 2.6, 12.8], [0.55, 2.5, 10], [0.6, 2.3, 9.5], [0.65, 2.2, 10],
  [0.7, 2, 13.2], [0.75, 1.5, 12.5], [0.8, 0.9, 9], [0.85, 0.8, 8.2], [0.9, 0.8, 7], [0.95, 0.8, 5], [1.0, 0.9, 4.6], [1.05, 1.2, 5], [1.1, 1.5, 6.5], [1.15, 1.9, 11],
  [1.2, 1.7, 15.5], [1.23, 1.5, 17.2], [1.27, 1.1, 15], [1.3, 1.1, 10], [1.35, 1.1, 8.5], [1.4, 1.1, 7], [1.45, 1.4, 7.5], [1.5, 1.6, 13.2], [1.55, 1.9, 12.5], [1.6, 1, 12.7],
  [1.65, 0.9, 9], [1.7, 0.9, 7], [1.75, 0.9, 5.2], [1.8, 0.9, 5], [1.85, 0.9, 6], [1.9, 0.9, 8.3], [1.95, 0.9, 10], [2.0, 0.9, 13], [2.05, 0.9, 14.8], [2.1, 0.9, 12],
  [2.15, 0.9, 8], [2.2, 0.9, 7], [2.3, 0.9, 6], [2.4, 0.9, 5], [2.5, 0.85, 4], [2.55, 0.85, 3.2], [2.6, 0.85, 3.5], [2.7, 0.85, 3.3], [2.8, 0.85, 3], [2.9, 0.8, 3.2],
  [3.0, 0.8, 3.7], [3.05, 0.8, 3.7], [3.1, 0.8, 3], [3.2, 0.8, 2.6], [3.3, 0.8, 2.6], [3.4, 0.8, 2.8], [3.5, 0.85, 4.2], [3.55, 0.85, 5.5], [3.6, 0.85, 6.3], [3.7, 0.85, 6.2],
  [3.8, 0.85, 6], [3.9, 0.85, 5.8], [3.95, 0.85, 3.5], [4.0, 0.8, 2.4], [4.2, 0.75, 2], [4.4, 0.75, 1.9], [4.5, 0.75, 2.2], [4.7, 0.75, 1.6], [4.8, 0.75, 1.5], [5.5, 0.75, 1.5],
  [6, 0.8, 1.8], [6.05, 0.8, 2.3], [6.2, 0.8, 1.7], [7, 0.75, 1.7], [7.5, 0.8, 1.6], [8, 0.85, 1.8], [8.5, 0.88, 2.1], [8.6, 0.88, 2.3], [9, 0.9, 2], [9.5, 1, 2],
  [10, 1.1, 2.1], [10.5, 1.05, 2], [10.9, 1, 2.4], [11.2, 1, 2], [11.8, 1.05, 2.2], [11.85, 1.05, 2.9], [12, 1.1, 2.1], [12.5, 1, 2], [12.56, 0.9, 2.2], [12.6, 0.5, 5],
  [12.63, 0.6, 13], [12.66, 0.7, 16.4], [12.75, 0.8, 16.7], [12.8, 0.9, 16], [12.85, 1, 18], [12.9, 1, 20.2], [12.95, 1.05, 16], [13.0, 1.1, 11.3], [13.1, 1.1, 11], [13.15, 1, 11.2],
  [13.2, 1.2, 12.8], [13.25, 1.4, 12.5], [13.28, 1.5, 9], [13.35, 1.7, 10], [13.4, 1.9, 12.5], [13.43, 1.9, 14.4], [13.47, 1.7, 11], [13.55, 1.5, 8.5], [13.6, 1.4, 9.5], [13.7, 1, 10.5],
  [13.78, 1.3, 11.3], [13.85, 1.5, 10.5], [13.9, 1.4, 8.5], [14.0, 1.3, 6.2], [14.1, 1.3, 7], [14.2, 1.25, 8.4], [14.3, 1.2, 9], [14.4, 1.2, 8], [14.5, 1.2, 8], [14.6, 1.1, 7],
  [14.7, 1.1, 6], [14.85, 1.05, 6.5], [15, 1, 5.5], [15.1, 1, 5], [15.2, 1, 5.5], [15.3, 1, 4.5], [15.5, 1, 4.5], [15.6, 1, 4.2], [15.8, 1, 5], [16, 1, 3.5],
  [16.3, 1, 3.5], [16.5, 0.95, 3.8], [16.8, 0.9, 3], [17, 0.9, 3.2], [17.5, 0.9, 3.2], [18, 0.9, 2.9], [18.1, 0.9, 3.2], [18.5, 0.85, 2.6], [19, 0.8, 2.5], [19.5, 0.85, 2.9],
  [19.7, 0.85, 3], [20, 0.9, 3.2], [20.03, 0.85, 4], [20.3, 0.6, 5], [20.35, 0.65, 4.5], [20.5, 0.7, 3.4], [20.7, 0.75, 3.3], [20.85, 0.8, 3.5], [20.95, 0.8, 3], [21, 0.8, 3.8],
  [21.1, 0.9, 4.5], [21.2, 1, 4.5], [21.35, 1.1, 5.4], [21.4, 1.1, 4.4], [21.5, 1.1, 5.5], [21.57, 1.1, 10], [21.6, 1.1, 10.3], [21.65, 1, 7], [21.72, 0.9, 9], [21.78, 0.9, 7],
  [21.85, 0.9, 5], [22, 0.9, 5.2], [22.05, 0.9, 7], [22.1, 0.9, 5], [22.2, 0.95, 5], [22.3, 1, 5], [22.4, 1, 6], [22.45, 1, 8.5], [22.5, 1, 8], [22.55, 1, 4.5],
  [22.6, 1.1, 5], [22.7, 1.2, 7], [22.9, 1.3, 7], [23, 1.4, 7.5], [23.1, 1.5, 7.7], [23.15, 1.8, 11], [23.18, 2, 13.5], [23.22, 1.5, 11], [23.3, 1.2, 7], [23.4, 1.2, 6.5],
  [23.5, 1.15, 6], [23.6, 1.1, 8], [23.68, 1.8, 12], [23.72, 2.3, 14], [23.76, 2, 12], [23.8, 1.8, 7], [23.9, 1.7, 7], [23.95, 1.6, 12], [24, 1.5, 12],
];

// [hour, mV] single points outside the solid part
const voltageDots: [number, number][] = [
  [0.08, 23.9], [0.08, 22.9], [0.08, 22], [0.08, 21.5], [0.08, 20.5], [0.08, 19.9], [0.08, 19.4], [0.09, 18.9], [0.09, 18.3], [0.1, 17.7],
  [0.16, 17.6], [0.18, 17], [0.08, 17.1], [0.09, 16.1], [0.18, 15.6], [0.31, 23.5], [0.31, 21.8], [0.31, 21.4], [0.31, 19.9], [0.32, 18.4],
  [0.31, 18], [0.31, 16.9], [0.33, 16.4], [0.33, 16], [0.33, 14.5], [0.05, 1.8], [0.24, 2.4], [0.24, 2], [0.04, 15.4], [0.19, 14.7],
  [0.86, 9.1], [0.86, 8.8], [0.86, 8.2], [0.9, 7.3], [0.9, 6.6], [0.9, 6], [1.05, 5.1], [4.71, 2.4], [4.71, 2.15], [4.87, 2],
  [12.68, 32.2], [12.68, 32], [12.68, 29.4], [12.68, 28.4], [12.68, 28.1], [12.68, 27.6], [12.68, 26.8], [12.68, 26.4], [12.68, 25.8], [12.68, 25],
  [12.68, 22.9], [12.68, 22.5], [12.68, 21.7], [12.68, 20.6], [12.68, 20.1], [12.68, 19.3], [12.68, 18.4], [12.68, 17.8], [12.68, 16.9],
  [13.86, 11.2], [14.21, 9.9], [14.21, 9.3], [14.21, 8.8], [14.36, 9.1], [14.48, 8.3], [14.69, 8.2], [14.69, 7.7], [14.89, 7.5], [15.23, 6.4],
  [15.23, 5.7], [15.1, 5.9], [15.46, 5.6], [15.73, 5.2], [15.88, 4.9], [16.12, 4.6], [11.95, 2.9], [11.95, 2.4],
  [21.72, 12.1], [21.72, 11.5], [21.72, 10.9], [21.6, 10.3], [21.72, 9.9], [21.72, 9.5], [22.04, 8.5], [22.19, 7], [22.29, 6.9], [22.19, 6.6],
  [22.19, 6.1], [22.29, 6.3], [22.29, 5.9], [22.45, 11.1], [22.45, 9.9], [22.45, 9.4], [23.17, 14.2], [23.17, 13.6], [23.7, 14.3], [23.7, 14.1],
  [23.7, 13.4], [22.73, 7.2], [23.05, 8.1], [22.95, 7.4], [23.95, 11.7], [23.95, 11.2], [23.95, 10.2], [20.27, 5], [20.27, 4.5], [20.04, 3.9], [19, 2.9],
];

// low-pass filtered peak voltage, mV, one row per half hour
const voltageFiltered = [
  7.1, 11.4, 8, 9.4, 7.2, 7, 10.4, 6.2, 7.8, 8.2,
  5.2, 5.2, 4.6, 6.2, 6.3, 4.8, 2.5, 3.6, 2.3, 1.8,
  2.2, 3.3, 2.8, 5.1, 11.5, 5, 6, 3.6, 3.9, 2.4,
  7.2, 5.8, 6.4, 5, 5, 3, 2.3, 3, 3.8, 4,
  3.8, 7.3, 3.4, 2.9, 2.6, 2.2, 1.9, 2, 2.2, 1.8,
  1.4, 1.5, 2.3, 1.6, 1.9, 1.7, 1.4, 1.5, 1.8, 1.9,
  1.8, 2, 1.9, 1.3, 1.2, 1.9, 1.6, 1.7, 1.9, 1.6,
  2, 3.5, 2.3, 3.5, 2.8, 2, 1.9, 3.9, 1.8, 1.5,
  1.4, 1.3, 1.35, 1.3, 1.25, 1.3, 1.2, 1.2, 1.1, 1.15,
  1.2, 1.1, 1.1, 1.15, 1.2, 1.15, 1.05, 1.0, 1.05, 1.1,
  1.1, 1.05, 1.1, 1.15, 1.05, 1.1, 1.15, 1.2, 1.15, 1.1,
  1.05, 1.1, 1.15, 1.1, 1.05, 1.1, 1.12, 1.15, 1.1, 1.15,
  1.2, 1.25, 1.2, 1.25, 1.3, 1.25, 1.2, 1.3, 1.25, 1.2,
  1.25, 1.3, 1.2, 1.25, 1.2, 1.15, 1.2, 1.25, 1.15, 1.2,
  1.2, 1.1, 1.15, 1.1, 1.15, 1.2, 1.1, 1.15, 1.05, 1.1,
  1.15, 1.1, 1.2, 1.15, 1.1, 1.3, 1.35, 1.3, 1.35, 1.3,
  1.35, 1.4, 1.35, 1.3, 1.35, 1.4, 1.45, 1.35, 1.3, 1.4,
  1.4, 1.35, 1.3, 1.4, 1.35, 1.3, 1.35, 1.4, 1.35, 1.45,
  1.4, 1.35, 1.4, 1.45, 1.5, 1.55, 1.5, 1.55, 1.6, 1.55,
  1.5, 1.55, 1.6, 1.5, 1.55, 1.5, 1.55, 1.5, 1.6, 1.55,
  1.55, 1.5, 1.45, 1.5, 1.4, 1.45, 1.35, 1.4, 1.45, 1.4,
  1.35, 1.4, 1.45, 1.4, 1.45, 1.5, 1.4, 1.45, 1.4, 1.5,
  1.45, 1.4, 1.35, 1.45, 1.4, 1.35, 1.4, 1.35, 1.4, 1.45,
  1.5, 1.45, 1.4, 1.5, 1.45, 1.5, 1.45, 1.6, 1.5, 1.55,
  1.5, 1.55, 1.5, 1.55, 1.45, 1.5, 1.55, 1.5, 1.55, 1.5,
  1.45, 1.3, 1.2, 0.3, 15, 10, 12.2, 5.3, 18.5, 8.2,
  3.8, 3.3, 8.4, 5.1, 10.7, 2.2, 5.8, 6.3, 9.1, 7,
  5, 5.7, 4.5, 3.2, 6.8, 4.1, 7.3, 5.6, 4.6, 4.2,
  3.8, 3.4, 3.4, 3.3, 5.5, 4.4, 4.6, 4.7, 3.6, 3.2,
  2.9, 3, 3.5, 3.2, 3.7, 3.8, 3, 3.8, 4.4, 3.2,
  3, 2.7, 2.6, 2.8, 3.1, 2.7, 2.5, 2.7, 3.1, 2.6,
  2.3, 2.2, 2.1, 2.3, 2.5, 2.4, 2.2, 2.3, 2.4, 2,
  2.1, 2, 2.1, 2.2, 2.1, 2, 2.1, 2.2, 2.3, 2.1,
  2, 2.1, 1.9, 2.1, 1.7, 1.8, 2, 1.7, 1.9, 2,
  1.8, 1.9, 2, 1.8, 1.7, 1.9, 2, 1.8, 1.9, 2.1,
  1.9, 1.8, 2, 2.1, 1.8, 1.7, 2, 1.9, 1.8, 1.9,
  1.9, 1.8, 2, 1.9, 1.7, 1.8, 1.6, 1.7, 1.8, 1.6,
  1.5, 1.4, 1.3, 1.4, 1.5, 1.4, 1.5, 1.4, 1.5, 1.8,
  1.4, 1.5, 1.4, 1.2, 1.5, 1.6, 1.5, 1.6, 1.7, 1.7,
  1.7, 1.6, 1.5, 1.3, 1.8, 1.7, 1.6, 1.6, 1.5, 1.5,
  1.6, 2.5, 1.7, 1.5, 1.5, 1.6, 2.7, 1.9, 1.4, 1.8,
  1.5, 1.6, 1.4, 1.3, 1.2, 1.5, 1.9, 2.2, 1.7, 1.3,
  1.3, 2, 2.8, 2, 1.7, 1.9, 2.9, 2.1, 2, 2.4,
  3, 5, 6, 3, 5.5, 3.6, 2.6, 2.4, 2.2, 2.6,
  2.4, 4.6, 2.5, 2.6, 2.2, 2.9, 3.3, 3, 3.2, 6.6,
  3.4, 2.7, 2.2, 2.9, 3.6, 3.3, 2.9, 4.1, 3, 2.6,
  3.6, 4.9, 3.8, 8.4, 4.2, 5.5, 4, 3.9, 4.3, 3.5,
  2.8, 3, 3.6, 6.8, 9.4, 6, 3.8, 4.2, 3.2, 5.3, 4.4,
];

const rawDoppler = [
  ...dopplerHighEarly, ...dopplerHighMid, ...dopplerHighLate, ...dopplerTopFringe,
  ...dopplerBottomFringe, ...dopplerLowEarly, ...dopplerLowMid, ...dopplerLowLate,
];
const dopplerRows = dopplerBand.map(([h, lo, hi]) => ({ h, range: [lo, hi] }));
const dopplerDots = rawDoppler.map(([h, v]) => ({ h, v }));
const dopplerLine = dopplerFiltered.map((v, i) => ({ h: i * FILTER_STEP, v }));
const voltageRows = voltageBand.map(([h, lo, hi]) => ({ h, range: [lo / 1000, hi / 1000] }));
const voltageDotRows = voltageDots.map(([h, v]) => ({ h, v: v / 1000 }));
const voltageLine = voltageFiltered.map((v, i) => ({ h: i * FILTER_STEP, v: v / 1000 }));

const tickStyle = { fill: "#000", fontSize: 22.2, fontWeight: 700, fontFamily: FONT };
const axisStroke = { stroke: "#000", strokeWidth: 1.2 };

function DateTick({ x, y, payload }: any) {
  const label = hourLabels[hourTicks.indexOf(payload.value)];
  return (
    <text
      transform={`translate(${x},${y + 16}) rotate(-30)`}
      textAnchor="end"
      style={{ ...tickStyle, fontSize: 22.6 }}
    >
      {label}
    </text>
  );
}

interface PanelProps {
  rows: any[];
  dots: any[];
  line: any[];
  domain: [number, number];
  ticks: number[];
  format: (v: number) => string;
  height: number;
  showDates: boolean;
}

function Panel({ rows, dots, line, domain, ticks, format, height, showDates }: PanelProps) {
  return (
    <ComposedChart
      width={1472}
      height={height}
      data={rows}
      margin={{ top: 0, right: 10, bottom: 0, left: 16 }}
    >
      <ReferenceArea x1={nightStart} x2={nightEnd} y1={domain[0]} y2={domain[1]} fill="#808080" fillOpacity={0.2} stroke="none" />
      <CartesianGrid stroke="#b0b0b0" strokeWidth={1} strokeDasharray="1.2 2" />
      <XAxis
        dataKey="h"
        type="number"
        domain={[0, 24]}
        ticks={hourTicks}
        interval={0}
        allowDataOverflow
        axisLine={axisStroke}
        tickLine={axisStroke}
        tickSize={5}
        height={showDates ? 100 : 30}
        tick={showDates ? <DateTick /> : tickStyle}
        tickFormatter={showDates ? undefined : () => ""}
      />
      <YAxis
        type="number"
        domain={domain}
        ticks={ticks}
        interval={0}
        allowDataOverflow
        width={100}
        axisLine={axisStroke}
        tickLine={axisStroke}
        tickSize={5}
        tickMargin={5}
        tick={{ ...tickStyle, dy: 1 }}
        tickFormatter={format}
      />
      <ZAxis range={[28, 28]} />
      <Area
        dataKey="range"
        fill={BLUE}
        fillOpacity={1}
        stroke={BLUE}
        strokeWidth={5.6}
        strokeLinejoin="round"
        type="linear"
        dot={false}
        activeDot={false}
        isAnimationActive={false}
      />
      <Scatter data={dots} dataKey="v" fill={BLUE} isAnimationActive={false} />
      <Line data={line} dataKey="v" stroke={ORANGE} strokeWidth={2.3} dot={false} activeDot={false} type="linear" isAnimationActive={false} />
      <ReferenceArea x1={0} x2={24} y1={domain[0]} y2={domain[1]} fill="none" stroke="#000" strokeWidth={1.2} />
    </ComposedChart>
  );
}

function LegendBox({ top }: { top: number }) {
  return (
    <div
      style={{
        position: "absolute",
        left: 1047,
        top,
        width: 406,
        height: 80,
        boxSizing: "border-box",
        background: "rgba(255,255,255,0.8)",
        border: "1px solid #d5d5d5",
        borderRadius: 4,
        fontFamily: FONT,
        fontWeight: 700,
        fontSize: 18.6,
        lineHeight: "22px",
        color: "#000",
      }}
    >
      <span style={{ position: "absolute", left: 23, top: 12, width: 6, height: 6, borderRadius: 3, background: BLUE }} />
      <span style={{ position: "absolute", left: 58, top: 4, whiteSpace: "nowrap" }}>Raw Data</span>
      <span style={{ position: "absolute", left: 6, top: 51, width: 38, height: 2, background: ORANGE }} />
      <span style={{ position: "absolute", left: 58, top: 32, whiteSpace: "nowrap" }}>Butterworth Filtered Data</span>
      <span style={{ position: "absolute", left: 58, top: 52, whiteSpace: "nowrap" }}>(N=6, Tc=3.3333 min, Type: low)</span>
    </div>
  );
}

const textBase = { position: "absolute", fontFamily: FONT, fontWeight: 700, color: "#000", whiteSpace: "nowrap" } as const;

export default function App() {
  return (
    <div style={{ position: "absolute", left: 0, top: 0, width: 1472, height: 1172, background: "#fff", overflow: "hidden" }}>
      <div style={{ position: "absolute", left: 0, top: 38 }}>
        <Panel
          rows={dopplerRows}
          dots={dopplerDots}
          line={dopplerLine}
          domain={[-2.39, 2.52]}
          ticks={dopplerTicks}
          format={(v) => (v < 0 ? `\u2212${-v}` : `${v}`)}
          height={510}
          showDates={false}
        />
      </div>
      <div style={{ position: "absolute", left: 0, top: 575 }}>
        <Panel
          rows={voltageRows}
          dots={voltageDotRows}
          line={voltageLine}
          domain={[-0.00132, 0.0339]}
          ticks={voltageTicks}
          format={(v) => v.toFixed(3)}
          height={579}
          showDates
        />
      </div>
      <LegendBox top={48} />
      <LegendBox top={584} />
      <div style={{ ...textBase, left: 116, top: 5, fontSize: 26 }}>(a)</div>
      <div style={{ ...textBase, left: 634, top: 5, fontSize: 26.6 }}>15.0 MHz N0000082</div>
      <div style={{ ...textBase, left: 116, top: 543, fontSize: 26 }}>(b)</div>
      <div style={{ ...textBase, left: 55, top: 278, fontSize: 22.4, transform: "translate(-50%,-50%) rotate(-90deg)" }}>Doppler Shift [Hz]</div>
      <div style={{ ...textBase, left: 18, top: 814, fontSize: 22.4, transform: "translate(-50%,-50%) rotate(-90deg)" }}>Peak Voltage [V]</div>
      <div style={{ ...textBase, left: 789, top: 1151, fontSize: 22.4, transform: "translate(-50%,-50%)" }}>UTC</div>
    </div>
  );
}
